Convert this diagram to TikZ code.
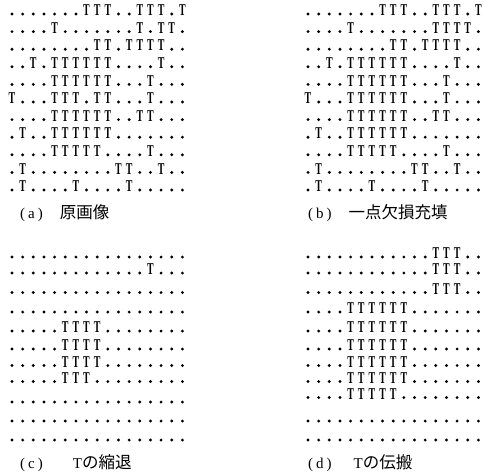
\documentclass[tikz,border=0pt]{standalone}
\usepackage{graphicx}
\usepackage{fontspec}
\setmainfont{Liberation Serif}
\newfontfamily\jp{Noto Sans CJK JP}
\newcount\gcol
\tikzset{
  tch/.style={inner sep=0pt, anchor=base, font=\fontsize{16.5}{16.5}\selectfont\bfseries},
  lab/.style={inner sep=0pt, anchor=base west, font=\fontsize{15}{15}\selectfont},
}
\newcommand\jl[1]{{\fontsize{16.5}{16.5}\selectfont\jp #1}}
\makeatletter
\newcommand\gridrow[3]{%
  \global\gcol=0
  \@tfor\gch:=#3\do{%
    \if T\gch
      \node[tch] at ({#1+\the\gcol*10.65},{#2+1.6}) {\scalebox{0.6}[1]{T}};%
    \else
      \fill ({#1+\the\gcol*10.65},#2) circle[radius=1.6pt];%
    \fi
    \global\advance\gcol by 1 }}
\makeatother
\begin{document}
\begin{tikzpicture}[x=1pt,y=-1pt]
\useasboundingbox (0,0) rectangle (484,474);
% (a)
\gridrow{12}{14}{.......TTT..TTT.T}
\gridrow{12}{31.6}{....T.......T.TT.}
\gridrow{12}{49.2}{........TT.TTTT..}
\gridrow{12}{66.8}{..T.TTTTTT....T..}
\gridrow{12}{84.4}{....TTTTTT...T...}
\gridrow{12}{102}{T...TTT.TT...T...}
\gridrow{12}{119.6}{....TTTTTT..TT...}
\gridrow{12}{137.2}{.T..TTTTTT.......}
\gridrow{12}{154.8}{....TTTTT....T...}
\gridrow{12}{172.4}{.T........TT..T..}
\gridrow{12}{190}{.T....T....T.....}
% (b)
\gridrow{308}{14}{.......TTT..TTT.T}
\gridrow{308}{31.6}{....T.......TTTT.}
\gridrow{308}{49.2}{........TT.TTTT..}
\gridrow{308}{66.8}{..T.TTTTTT....T..}
\gridrow{308}{84.4}{....TTTTTT...T...}
\gridrow{308}{102}{T...TTTTTT...T...}
\gridrow{308}{119.6}{....TTTTTT..TT...}
\gridrow{308}{137.2}{.T..TTTTTT.......}
\gridrow{308}{154.8}{....TTTTT....T...}
\gridrow{308}{172.4}{.T........TT..T..}
\gridrow{308}{190}{.T....T....T.....}
% (c)
\gridrow{12}{257}{.................}
\gridrow{12}{273}{.............T...}
\gridrow{12}{292.5}{.................}
\gridrow{12}{312}{.................}
\gridrow{12}{331}{.....TTTT........}
\gridrow{12}{349}{.....TTTT........}
\gridrow{12}{365.5}{.....TTTT........}
\gridrow{12}{381.5}{.....TTT.........}
\gridrow{12}{402}{.................}
\gridrow{12}{421}{.................}
\gridrow{12}{440}{.................}
% (d)
\gridrow{308}{257}{............TTT..}
\gridrow{308}{273}{............TTT..}
\gridrow{308}{292.5}{............TTT..}
\gridrow{308}{312}{....TTTTTT.......}
\gridrow{308}{331}{....TTTTTT.......}
\gridrow{308}{349}{....TTTTTT.......}
\gridrow{308}{365.5}{....TTTTTT.......}
\gridrow{308}{381.5}{....TTTTTT.......}
\gridrow{308}{397.5}{....TTTTT........}
\gridrow{308}{421}{.................}
\gridrow{308}{440}{.................}
% labels
\node[lab] (la) at (20,218) {(\hspace{3pt}a\hspace{3pt})\hspace{17pt}\jl{原画像}};
\node[lab] (lb) at (308,218) {(\hspace{3pt}b\hspace{3pt})\hspace{17pt}\jl{一点欠損充填}};
\node[lab] (lc) at (20,468) {(\hspace{3pt}c\hspace{3pt})\hspace{30pt}T\jl{の縮退}};
\node[lab] (ld) at (308,468) {(\hspace{3pt}d\hspace{3pt})\hspace{22pt}T\jl{の伝搬}};
\end{tikzpicture}
\end{document}
